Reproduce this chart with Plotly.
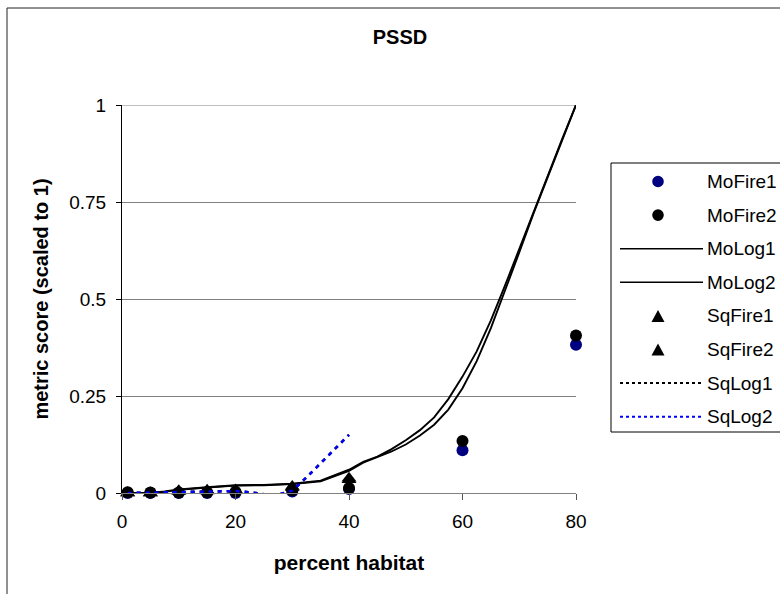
import plotly.graph_objects as go

# ---- data -------------------------------------------------------------
fire_x = [1, 5, 10, 15, 20, 30, 40, 60, 80]
mo_fire1 = [0.0, 0.0, 0.0, 0.0, 0.0, 0.004, 0.01, 0.11, 0.382]
mo_fire2 = [0.002, 0.001, 0.001, 0.002, 0.003, 0.007, 0.013, 0.134, 0.406]

log_x = [1, 5, 7.5, 10, 15, 20, 25, 30, 35, 40, 42.5, 45, 47.5, 50, 52.5,
         55, 57.5, 60, 62.5, 65, 67.5, 70, 72.5, 75, 77.5, 80]
mo_log1 = [0, 0, 0.004, 0.009, 0.015, 0.02, 0.021, 0.024, 0.032, 0.06, 0.08,
           0.094, 0.113, 0.136, 0.162, 0.195, 0.242, 0.3, 0.365, 0.445, 0.535,
           0.63, 0.725, 0.82, 0.91, 1.0]
mo_log2 = [0, 0, 0.003, 0.008, 0.014, 0.019, 0.02, 0.023, 0.03, 0.057, 0.078,
           0.093, 0.107, 0.125, 0.148, 0.176, 0.215, 0.27, 0.34, 0.425, 0.52,
           0.62, 0.72, 0.815, 0.905, 1.0]

sq_x = [1, 5, 10, 15, 20, 30, 40]
sq_fire1 = [0.0, 0.0, 0.004, 0.005, 0.006, 0.014, 0.034]
sq_fire2 = [0.0, 0.0, 0.006, 0.007, 0.008, 0.017, 0.038]

# the two square-fit logistic curves coincide, so SqLog2 sits on top of SqLog1
sq_log_x = [1, 5, 10, 15, 20, 22.5, 25, 27.5, 30, 32.5, 35, 37.5, 40]
sq_log1 = [0.0, 0.001, 0.002, 0.003, 0.005, 0.002, -0.003, -0.004, 0.006,
           0.04, 0.077, 0.113, 0.15]
sq_log2 = [0.0, 0.001, 0.002, 0.003, 0.005, 0.002, -0.003, -0.004, 0.006,
           0.04, 0.077, 0.113, 0.15]

x_ticks = [0, 20, 40, 60, 80]
y_ticks = [0, 0.25, 0.5, 0.75, 1]
y_tick_text = ["0", "0.25", "0.5", "0.75", "1"]

series_names = ["MoFire1", "MoFire2", "MoLog1", "MoLog2",
                "SqFire1", "SqFire2", "SqLog1", "SqLog2"]

# ---- layout geometry --------------------------------------------------
FW, FH = 780, 594
ML, MR, MT, MB = 122, 204, 105, 101
PW, PH = FW - ML - MR, FH - MT - MB
FONT = "Liberation Sans, Arial, sans-serif"
NAVY = "#000080"
BLUE = "#0000FF"
GRID = "#808080"


def px(xp):
    """pixel column -> paper x"""
    return (xp - ML) / PW


def py(yp):
    """pixel row (from top) -> paper y"""
    return (FH - MB - yp) / PH


fig = go.Figure()

fig.add_trace(go.Scatter(x=fire_x, y=mo_fire1, mode="markers", name="MoFire1",
                         marker=dict(symbol="circle", size=12, color=NAVY),
                         cliponaxis=False))
fig.add_trace(go.Scatter(x=fire_x, y=mo_fire2, mode="markers", name="MoFire2",
                         marker=dict(symbol="circle", size=12, color="black"),
                         cliponaxis=False))
fig.add_trace(go.Scatter(x=log_x, y=mo_log1, mode="lines", name="MoLog1",
                         line=dict(color="black", width=1.9)))
fig.add_trace(go.Scatter(x=log_x, y=mo_log2, mode="lines", name="MoLog2",
                         line=dict(color="black", width=1.9)))
fig.add_trace(go.Scatter(x=sq_x, y=sq_fire1, mode="markers", name="SqFire1",
                         marker=dict(symbol="triangle-up", size=13, color="black"),
                         cliponaxis=False))
fig.add_trace(go.Scatter(x=sq_x, y=sq_fire2, mode="markers", name="SqFire2",
                         marker=dict(symbol="triangle-up", size=13, color="black"),
                         cliponaxis=False))
fig.add_trace(go.Scatter(x=sq_log_x, y=sq_log1, mode="lines", name="SqLog1",
                         line=dict(color="black", width=2.5, dash="4px,5px")))
fig.add_trace(go.Scatter(x=sq_log_x, y=sq_log2, mode="lines", name="SqLog2",
                         line=dict(color=BLUE, width=2.5, dash="4px,5px")))

shapes = []
annotations = []

# outer chart border
shapes.append(dict(type="rect", xref="paper", yref="paper",
                   x0=px(7), x1=px(800), y0=py(8), y1=py(620),
                   line=dict(color="#222", width=1), layer="below"))

# top gridline at 1
shapes.append(dict(type="line", xref="paper", yref="y", x0=0, x1=1,
                   y0=y_ticks[-1], y1=y_ticks[-1],
                   line=dict(color=GRID, width=1), layer="below"))

# ---- legend box (drawn by hand for long line samples) -----------------
shapes.append(dict(type="rect", xref="paper", yref="paper",
                   x0=px(611), x1=px(800), y0=py(163), y1=py(432),
                   line=dict(color="black", width=1), fillcolor="white"))

legend_style = {
    "MoFire1": ("circle", NAVY),
    "MoFire2": ("circle", "black"),
    "MoLog1": ("line", "black"),
    "MoLog2": ("line", "black"),
    "SqFire1": ("triangle", "black"),
    "SqFire2": ("triangle", "black"),
    "SqLog1": ("dash", "black"),
    "SqLog2": ("dash", BLUE),
}

for i, name in enumerate(series_names):
    yc = 181.5 + 33.6 * i
    kind, col = legend_style[name]
    if kind == "circle":
        r = 5.8
        shapes.append(dict(type="circle", xref="paper", yref="paper",
                           x0=px(658 - r), x1=px(658 + r),
                           y0=py(yc + r), y1=py(yc - r),
                           fillcolor=col, line=dict(color=col, width=0)))
    elif kind == "triangle":
        h, half = 12, 6.5
        path = (f"M {px(658)},{py(yc - h / 2)} "
                f"L {px(658 + half)},{py(yc + h / 2)} "
                f"L {px(658 - half)},{py(yc + h / 2)} Z")
        shapes.append(dict(type="path", xref="paper", yref="paper", path=path,
                           fillcolor=col, line=dict(color=col, width=0)))
    else:
        dash = "solid" if kind == "line" else "3px,3px"
        shapes.append(dict(type="line", xref="paper", yref="paper",
                           x0=px(620), x1=px(703), y0=py(yc), y1=py(yc),
                           line=dict(color=col, width=1.5 if kind == "line" else 2,
                                     dash=dash)))
    annotations.append(dict(text=name, xref="paper", yref="paper",
                            x=px(705), y=py(yc), xanchor="left", yanchor="middle",
                            showarrow=False,
                            font=dict(family=FONT, size=19, color="black")))

fig.update_layout(
    width=FW, height=FH,
    margin=dict(l=ML, r=MR, t=MT, b=MB, pad=0),
    paper_bgcolor="white", plot_bgcolor="white",
    showlegend=False,
    font=dict(family=FONT, size=19, color="black"),
    title=dict(text="PSSD", x=px(400), xref="paper", xanchor="center",
               y=1 - 37 / FH, yref="container", yanchor="middle",
               font=dict(family=FONT, size=20, color="black", weight="bold")),
    shapes=shapes,
    annotations=annotations,
    xaxis=dict(range=[0, 80], tickvals=x_ticks, showgrid=False, zeroline=False,
               showline=True, linecolor=GRID, linewidth=1,
               ticks="outside", ticklen=6, tickcolor="#555", tickwidth=1,
               ticklabelstandoff=5,
               tickfont=dict(family=FONT, size=19, color="black"),
               title=dict(text="percent habitat", standoff=24,
                          font=dict(family=FONT, size=21, color="black",
                                    weight="bold"))),
    yaxis=dict(range=[0, 1], tickvals=y_ticks, ticktext=y_tick_text,
               showgrid=True, gridcolor=GRID, gridwidth=1, zeroline=False,
               showline=True, linecolor="black", linewidth=1,
               ticks="outside", ticklen=5, tickcolor="black", tickwidth=1,
               ticklabelstandoff=6,
               tickfont=dict(family=FONT, size=19, color="black"),
               title=dict(text="metric score (scaled to 1)", standoff=15,
                          font=dict(family=FONT, size=20, color="black",
                                    weight="bold"))),
)

fig.write_html("out.html")
